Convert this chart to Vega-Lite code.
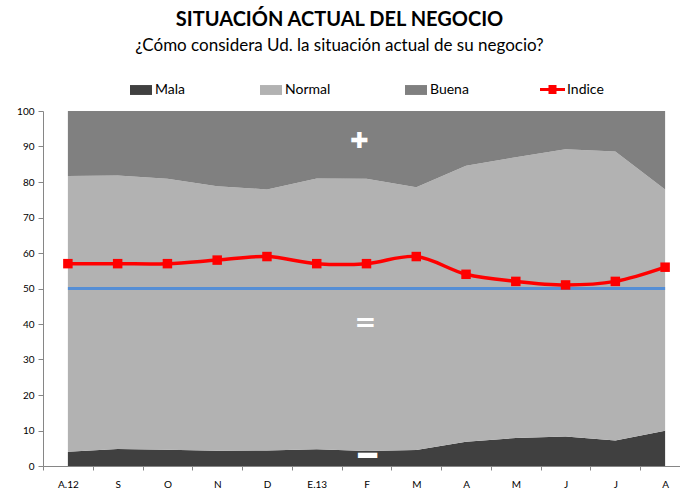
{
  "$schema": "https://vega.github.io/schema/vega-lite/v6.json",
  "width": 637,
  "height": 355,
  "autosize": {"type": "none"},
  "padding": {"left": 43, "top": 111, "right": 0, "bottom": 27},
  "background": "white",
  "config": {
    "view": {"stroke": null},
    "font": "Lato"
  },
  "title": {
    "text": "SITUACIÓN ACTUAL DEL NEGOCIO",
    "subtitle": "¿Cómo considera Ud. la situación actual de su negocio?",
    "fontSize": 20, "fontWeight": "bold", "font": "Lato", "color": "#000000",
    "subtitleFont": "Lato", "subtitleFontSize": 17, "subtitleColor": "#000000", "subtitlePadding": 8,
    "anchor": "middle", "frame": "group", "dx": -22, "offset": 23
  },
  "datasets": {
    "d": [
      {"idx": 0, "Mala": 4.0, "Normal": 77.7, "Buena": 18.3, "Indice": 57, "base": 50},
      {"idx": 1, "Mala": 4.8, "Normal": 77.0, "Buena": 18.2, "Indice": 57, "base": 50},
      {"idx": 2, "Mala": 4.6, "Normal": 76.3, "Buena": 19.1, "Indice": 57, "base": 50},
      {"idx": 3, "Mala": 4.3, "Normal": 74.5, "Buena": 21.2, "Indice": 58, "base": 50},
      {"idx": 4, "Mala": 4.4, "Normal": 73.5, "Buena": 22.1, "Indice": 59, "base": 50},
      {"idx": 5, "Mala": 4.7, "Normal": 76.3, "Buena": 19.0, "Indice": 57, "base": 50},
      {"idx": 6, "Mala": 4.2, "Normal": 76.7, "Buena": 19.1, "Indice": 57, "base": 50},
      {"idx": 7, "Mala": 4.5, "Normal": 74.0, "Buena": 21.5, "Indice": 59, "base": 50},
      {"idx": 8, "Mala": 6.8, "Normal": 77.8, "Buena": 15.4, "Indice": 54, "base": 50},
      {"idx": 9, "Mala": 7.9, "Normal": 79.1, "Buena": 13.0, "Indice": 52, "base": 50},
      {"idx": 10, "Mala": 8.3, "Normal": 80.9, "Buena": 10.8, "Indice": 51, "base": 50},
      {"idx": 11, "Mala": 7.2, "Normal": 81.4, "Buena": 11.4, "Indice": 52, "base": 50},
      {"idx": 12, "Mala": 9.9, "Normal": 68.0, "Buena": 22.1, "Indice": 56, "base": 50}
    ],
    "orden": [
      {"serie": "Mala", "o": 1},
      {"serie": "Normal", "o": 2},
      {"serie": "Buena", "o": 3}
    ],
    "sym": [
      {"idx": 6, "y": 40.3, "s": "="}
    ],
    "minus": [
      {"idx": 6, "y": 2.5, "s": "━"}
    ],
    "plus": [
      {"idx": 6, "y": 91.5, "s": "✚"}
    ]
  },
  "layer": [
    {
      "data": {"name": "d"},
      "transform": [
        {"fold": ["Mala", "Normal", "Buena"], "as": ["serie", "valor"]},
        {"lookup": "serie", "from": {"data": {"name": "orden"}, "key": "serie", "fields": ["o"]}}
      ],
      "mark": {"type": "area", "opacity": 1},
      "encoding": {
        "x": {
          "field": "idx", "type": "ordinal", "bandPosition": 0.5,
          "scale": {"type": "band", "paddingInner": 0, "paddingOuter": 0, "range": [0, 647]},
          "axis": {
            "title": null, "labelAngle": 0, "tickBand": "extent",
            "labelExpr": "['A.12','S','O','N','D','E.13','F','M','A','M','J','J','A'][datum.value]",
            "domainColor": "#868686", "tickColor": "#868686", "tickSize": 4,
            "labelFontSize": 10, "labelColor": "#000000", "labelPadding": 9, "labelFont": "Lato"
          }
        },
        "y": {
          "field": "valor", "type": "quantitative", "stack": "zero",
          "scale": {"domain": [0, 100], "nice": false},
          "axis": {
            "title": null, "grid": false, "labelOverlap": false, "tickCount": 11, "tickMinStep": 10,
            "values": [0, 10, 20, 30, 40, 50, 60, 70, 80, 90, 100],
            "domainColor": "#868686", "tickColor": "#868686", "tickSize": 5,
            "labelFontSize": 10, "labelColor": "#000000", "labelPadding": 4, "labelFont": "Lato"
          }
        },
        "fill": {
          "field": "serie", "type": "nominal", "sort": ["Mala", "Normal", "Buena"],
          "scale": {"domain": ["Mala", "Normal", "Buena"], "range": ["#404040", "#B2B2B2", "#808080"]},
          "legend": {
            "title": null, "orient": "none", "legendX": 87, "legendY": -32, "direction": "horizontal",
            "symbolType": "M-1,-0.45H1V0.45H-1Z", "symbolSize": 484, "symbolStrokeWidth": 0, "symbolOpacity": 1,
            "labelFontSize": 14, "labelOffset": 3, "columnPadding": 74, "labelFont": "Lato", "labelColor": "#000000"
          }
        },
        "order": {"field": "o", "type": "quantitative", "sort": "ascending"}
      }
    },
    {
      "data": {"name": "d"},
      "mark": {"type": "line", "color": "#558ED5", "strokeWidth": 3},
      "encoding": {
        "x": {"field": "idx", "type": "ordinal", "bandPosition": 0.5},
        "y": {"field": "base", "type": "quantitative"}
      }
    },
    {
      "data": {"name": "d"},
      "mark": {"type": "line", "strokeWidth": 3.5, "interpolate": "catmull-rom"},
      "encoding": {
        "x": {"field": "idx", "type": "ordinal", "bandPosition": 0.5},
        "y": {"field": "Indice", "type": "quantitative"},
        "stroke": {
          "datum": "Indice",
          "scale": {"domain": ["Indice"], "range": ["#FF0000"]},
          "legend": {
            "title": null, "orient": "none", "legendX": 497, "legendY": -34,
            "symbolType": "M-1,-0.12H-0.32V-0.36H0.32V-0.12H1V0.12H0.32V0.36H-0.32V0.12H-1Z",
            "symbolSize": 625, "symbolStrokeWidth": 0, "symbolFillColor": "#FF0000",
            "labelFontSize": 14, "labelOffset": 2, "labelFont": "Lato", "labelColor": "#000000",
            "encode": {"symbols": {"update": {"fill": {"value": "#FF0000"}, "fillOpacity": {"value": 1}}}}
          }
        }
      }
    },
    {
      "data": {"name": "d"},
      "mark": {"type": "point", "shape": "square", "filled": true, "size": 90, "color": "#FF0000", "opacity": 1},
      "encoding": {
        "x": {"field": "idx", "type": "ordinal", "bandPosition": 0.5},
        "y": {"field": "Indice", "type": "quantitative"}
      }
    },
    {
      "data": {"name": "sym"},
      "mark": {"type": "text", "color": "#FFFFFF", "fontSize": 26, "fontWeight": "bold", "font": "DejaVu Sans", "dx": -1, "baseline": "middle", "align": "center"},
      "encoding": {
        "x": {"field": "idx", "type": "ordinal", "bandPosition": 0.5},
        "y": {"field": "y", "type": "quantitative"},
        "text": {"field": "s"}
      }
    },
    {
      "data": {"name": "minus"},
      "mark": {"type": "text", "color": "#FFFFFF", "fontSize": 31, "font": "DejaVu Sans", "dx": 1, "baseline": "middle", "align": "center"},
      "encoding": {
        "x": {"field": "idx", "type": "ordinal", "bandPosition": 0.5},
        "y": {"field": "y", "type": "quantitative"},
        "text": {"field": "s"}
      }
    },
    {
      "data": {"name": "plus"},
      "mark": {"type": "text", "color": "#FFFFFF", "fontSize": 22, "font": "DejaVu Sans", "dx": -7, "baseline": "middle", "align": "center"},
      "encoding": {
        "x": {"field": "idx", "type": "ordinal", "bandPosition": 0.5},
        "y": {"field": "y", "type": "quantitative"},
        "text": {"field": "s"}
      }
    }
  ]
}
